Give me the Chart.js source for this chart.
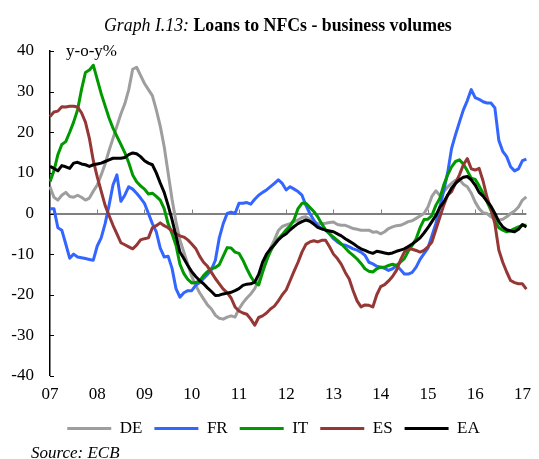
<!DOCTYPE html>
<html><head><meta charset="utf-8">
<script src="https://cdn.jsdelivr.net/npm/chart.js@4"></script>
<style>
html,body{margin:0;padding:0;background:#fff;}
#wrap{position:relative;width:539px;height:459px;overflow:hidden;font-family:"Liberation Serif","Times New Roman",serif;}
canvas{position:absolute;left:0;top:0;}
.t{position:absolute;white-space:nowrap;font-size:17px;line-height:17px;color:#000;}
</style></head><body>
<div id="wrap">
<canvas id="c" width="539" height="459"></canvas>
<div class="t" style="left:104px;top:17px;font-size:17.8px"><i>Graph I.13:</i> <b>Loans to NFCs - business volumes</b></div>
<div class="t" style="left:66px;top:42px">y-o-y%</div>
<div class="t" style="left:31px;top:444px"><i>Source: ECB</i></div>
</div>
<script>
// Monthly data, Jan 2007 - Feb 2017 (y-o-y %)
const years = ['07','08','09','10','11','12','13','14','15','16','17'];
const seriesNames = ['DE','FR','IT','ES','EA'];

const DE = [6.6,4.0,3.3,4.5,5.2,4.2,4.0,4.5,4.0,3.3,3.8,5.5,
7,9.5,12.2,15.5,18.5,21.5,24.5,27,30.5,35.5,36,34,
32,30.5,29,25.5,21.5,16.5,10,3.5,-2,-6.5,-9.5,-12.5,
-15.5,-17.7,-19.5,-21,-22.5,-23.5,-25,-25.8,-26,-25.5,-25.2,-25.5,
-23.5,-22,-20.8,-19.8,-18.5,-16.5,-14,-11.8,-8.5,-6.5,-4.2,-3.2,
-2.8,-2.5,-2.0,-1.6,-1.0,-0.8,-1.4,-2.2,-2.5,-2.5,-2.4,-2.2,
-2.1,-2.7,-2.9,-2.9,-3.3,-3.7,-3.9,-4.1,-4.1,-4.1,-4.6,-4.5,
-5,-4.5,-3.7,-3.3,-3.0,-2.9,-2.5,-2.0,-1.8,-1.2,-0.6,0,
1.6,4.2,5.6,4.5,5.4,6.5,7.4,8.2,8.3,7.2,6.6,5,
2.8,1.2,0.2,0,-0.8,-1.4,-1.6,-1.4,-0.8,0,0.6,1.6,
3.3,4.1];

const FR = [1.2,1.2,-3.5,-4.1,-7.5,-11,-10,-10.7,-10.9,-11.1,-11.3,-11.5,
-8,-6,-2.5,2,7,9.5,3,4.5,6.6,6,5,3.8,
2.5,0,-2.5,-4.5,-8.5,-10.7,-10.5,-13.5,-18.5,-20.6,-19.5,-19,
-19,-17.7,-17,-16,-15,-13.8,-11.5,-6,-2.5,0,0.3,0,
2.5,2.5,2.7,2.3,3.5,4.5,5.2,5.8,6.6,7.4,8.3,7.4,
5.8,6.6,6,5.4,4.5,2,0,-1.6,-3,-3.7,-4.1,-5,
-6.2,-7,-7.6,-7.8,-8.2,-8.7,-9,-9.5,-10.3,-12,-12.4,-13,
-13.2,-13.5,-14,-13.6,-12.8,-13.8,-14.9,-14.9,-14.5,-13.2,-11.3,-9.9,
-8.5,-5.5,-2.5,1.5,5.5,10,16,19.4,22.5,25.5,27.8,30.5,
28.5,28.1,27.5,27.2,27.2,26,18,15.3,14,11.5,10.5,11,
13,13.4];

const IT = [7.8,10.5,14.5,17,17.7,20,22.5,25.5,30.5,34.7,35.3,36.5,
33,29.5,26.5,23.5,21,19,17,15,12.5,9.5,7.8,6.8,
6,4.8,5,4.2,3.3,1.2,-2.5,-5,-7.8,-12.5,-14.8,-16.2,
-17.1,-17,-16.6,-15.3,-14.3,-13.6,-13.3,-12.6,-10.5,-8.4,-8.5,-9.5,
-9.8,-11.5,-13.6,-15.5,-17,-17.6,-14.5,-11.5,-9.3,-7.5,-6.2,-5.2,
-4,-3,-1.5,1.2,2.5,2.5,1.5,0.5,-0.8,-2.5,-4,-5,
-5.8,-6.6,-7.5,-8.5,-9.5,-10.3,-11.2,-12.3,-13.6,-14.2,-14.4,-13.6,
-13.2,-13.2,-12.8,-12.5,-12.8,-12,-11.1,-9.3,-7.8,-6.2,-3.5,-1.5,
-1.4,-0.5,2,3.7,7,9.5,11.5,12.8,13.2,12.2,10.5,8.7,
8.4,6.8,5,2.9,0.8,-1.8,-3.5,-4.1,-4.5,-4.2,-3.7,-3.3,
-2.9,-2.9];

const ES = [23.9,25,25.2,26.3,26.2,26.4,26.4,26.2,24.8,22.5,18.5,13,
9,5.5,2,-0.5,-2.9,-5,-7.2,-7.7,-8.2,-8.7,-7.8,-6.5,
-6.2,-6,-3.5,-3,-2.3,-3,-3.5,-4.3,-5,-5.5,-5.8,-6.5,
-7.5,-8.6,-10.5,-12,-13,-14.5,-16,-17.3,-18.6,-19.5,-20.8,-23,
-24,-24.5,-24.8,-26,-27.5,-25.6,-25.2,-24.5,-23.5,-22.8,-21.5,-20,
-18.8,-16.5,-14.2,-12,-9.5,-7.6,-7,-6.7,-7,-6.6,-6.6,-8.2,
-10,-11.1,-12.5,-14.5,-16.1,-19,-21.5,-23,-22.5,-22.6,-23,-20,
-18,-17.5,-16.6,-15.5,-14,-11.5,-9.5,-8.7,-8.8,-9.1,-9.5,-9.1,
-8.2,-7,-4,-1,2,4.5,5.4,7.5,9.5,12,13.5,11,
10.7,11.1,8,4,1.2,-2.5,-9,-12,-14.4,-16.5,-17,-17.3,
-17.3,-18.6];

const EA = [11.6,11.1,10.5,11.8,11.5,11.1,12.4,12.6,12.2,12,11.6,12,
12.2,12.4,12.8,13.2,13.6,13.6,13.6,13.8,14.5,14.9,14.7,14,
13,12.4,12,10,7.5,5.2,2,-1.5,-5.5,-9.5,-11.1,-12.8,
-14.3,-15.5,-16.5,-17.3,-18.3,-19.2,-20.2,-20.1,-19.8,-19.6,-19.4,-19,
-18.5,-17.7,-17.4,-17.3,-16.9,-15,-12,-10,-8.7,-7.7,-6.5,-5.6,
-5,-4,-3.2,-2.5,-2,-1.6,-1.9,-2.6,-3.4,-3.8,-4.1,-4.3,
-4.5,-5,-5.5,-6.2,-6.8,-7.4,-8.1,-8.7,-9.1,-9.5,-9.8,-9.3,
-9.5,-9.7,-9.9,-9.7,-9.3,-9,-8.7,-8.1,-7.5,-6.8,-6,-4.8,
-3.5,-2,-0.5,1.5,2.8,4.5,6.2,7.4,8.3,8.9,9.1,8.3,
7,5.2,4.3,3,1.8,0,-2,-3.3,-4,-4.3,-4.5,-3.9,
-2.7,-3.3];

const yTicks = [-40,-30,-20,-10,0,10,20,30,40];

// monthly category labels built from the year labels
const months = [];
for (let i = 0; i < DE.length; i++) {
  months.push(String((i % 12) + 1).padStart(2,'0') + '/' + years[Math.floor(i / 12)]);
}

const F = '"Liberation Serif","Times New Roman",serif';
const colors = ['#9E9E9E','#3366FF','#009900','#953735','#000000'];
const values = [DE, FR, IT, ES, EA];

const marks = {
  id: 'marks',
  afterLayout(chart) {
    // nudge the legend row to the right, as in the reference
    if (chart.legend) { chart.legend.left += 8; chart.legend.right += 8; }
  },
  beforeDatasetsDraw(chart) {
    const {ctx, scales: {x, y}, chartArea: a} = chart;
    ctx.save();
    ctx.lineWidth = 1;
    ctx.strokeStyle = '#000';
    yTicks.forEach(v => {
      const py = Math.round(y.getPixelForValue(v)) + 0.5;
      ctx.beginPath(); ctx.moveTo(a.left, py); ctx.lineTo(a.left + 4, py); ctx.stroke();
    });
    const y0 = y.getPixelForValue(0);
    ctx.strokeStyle = '#808080';
    years.forEach((yr, i) => {
      const px = Math.round(x.getPixelForValue(i * 12)) + 0.5;
      ctx.beginPath(); ctx.moveTo(px, y0); ctx.lineTo(px, y0 - 4); ctx.stroke();
    });
    ctx.restore();
  }
};

new Chart(document.getElementById('c'), {
  type: 'line',
  data: {
    labels: months,
    datasets: seriesNames.map((n, i) => ({
      label: n,
      data: values[i],
      borderColor: colors[i],
      backgroundColor: colors[i],
      borderWidth: 3,
      pointRadius: 0,
      tension: 0,
      borderJoinStyle: 'round',
      fill: false,
      order: 5 - i
    }))
  },
  options: {
    responsive: false,
    animation: false,
    layout: { padding: { left: 0, right: 8, top: 51, bottom: 12 } },
    scales: {
      x: {
        grid: { display: false, drawTicks: false },
        border: { display: false },
        ticks: {
          autoSkip: false, maxRotation: 0, minRotation: 0,
          color: '#000', font: { family: F, size: 17 }, padding: 8,
          callback(v) { return v % 12 === 0 ? years[v / 12] : null; }
        },
        afterFit(s) { s.height = 32; }
      },
      y: {
        min: -40, max: 40,
        afterBuildTicks(s) { s.ticks = yTicks.map(v => ({ value: v })); },
        ticks: { color: '#000', font: { family: F, size: 17 }, padding: 16 },
        grid: {
          drawTicks: false,
          color: c => (c.tick && c.tick.value === 0) ? '#808080' : 'rgba(0,0,0,0)',
          lineWidth: c => (c.tick && c.tick.value === 0) ? 2 : 0
        },
        border: { display: true, color: '#000', width: 1.5 },
        afterFit(s) { s.width = 50; }
      }
    },
    plugins: {
      legend: {
        position: 'bottom',
        labels: {
          boxWidth: 44, boxHeight: 3, color: '#000',
          font: { family: F, size: 17 }, padding: 12,
          sort: (a, b) => a.datasetIndex - b.datasetIndex,
          generateLabels(chart) {
            const items = Chart.defaults.plugins.legend.labels.generateLabels(chart);
            items.forEach(it => { it.fillStyle = it.strokeStyle; it.lineWidth = 0; });
            return items;
          }
        }
      },
      tooltip: { enabled: false },
      title: { display: false }
    }
  },
  plugins: [marks]
});
</script>
</body></html>
